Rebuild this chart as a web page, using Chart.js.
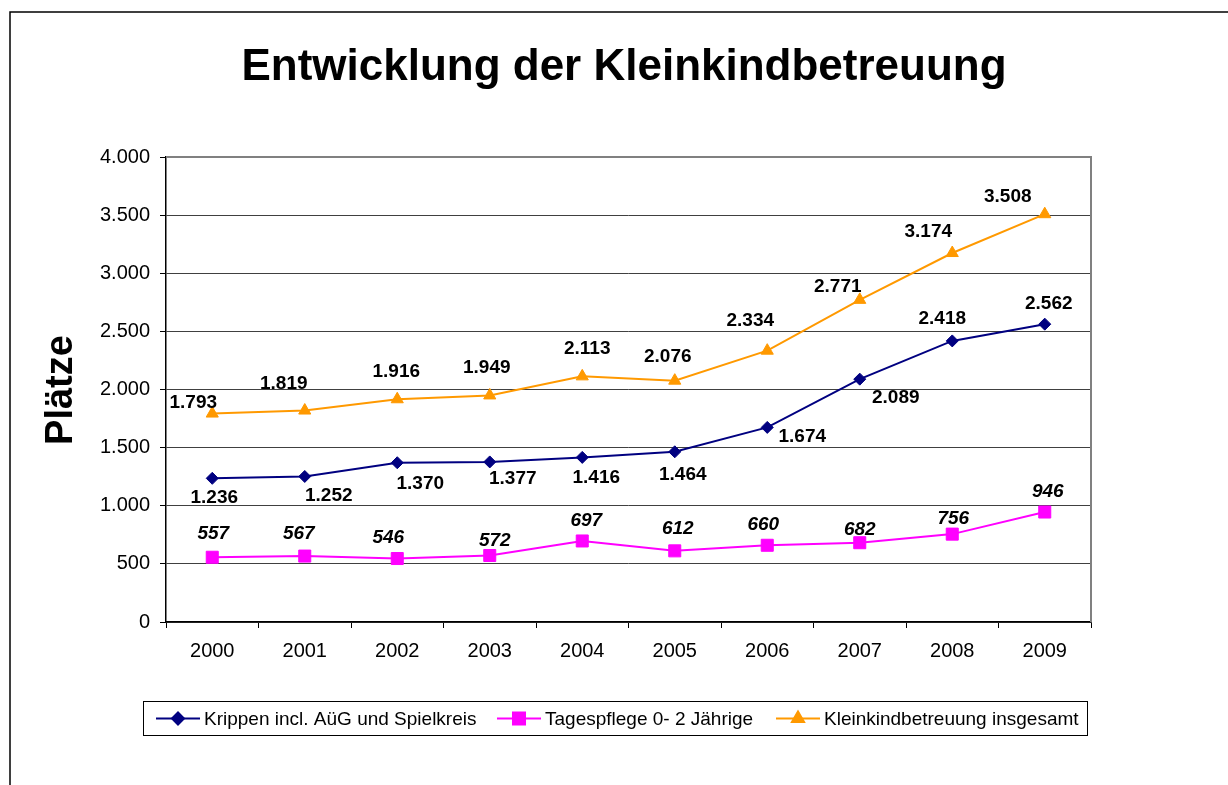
<!DOCTYPE html>
<html>
<head>
<meta charset="utf-8">
<script src="https://cdn.jsdelivr.net/npm/chart.js@4.4.0/dist/chart.umd.min.js"></script>
<style>
    html, body { margin: 0; padding: 0; background: #fff; }
    #wrap { position: relative; width: 1228px; height: 785px; }
</style>
</head>
<body>
<div id="wrap"><canvas id="chart" width="1228" height="785"></canvas></div>
<script>
// chart data
const years = ['2000', '2001', '2002', '2003', '2004', '2005', '2006', '2007', '2008', '2009'];
const krippen = [1236, 1252, 1370, 1377, 1416, 1464, 1674, 2089, 2418, 2562];
const tagespflege = [557, 567, 546, 572, 697, 612, 660, 682, 756, 946];
const gesamt = [1793, 1819, 1916, 1949, 2113, 2076, 2334, 2771, 3174, 3508];
const yTickValues = [0, 500, 1000, 1500, 2000, 2500, 3000, 3500, 4000];

const seriesNames = ['Krippen incl. AüG und Spielkreis', 'Tagespflege 0- 2 Jährige', 'Kleinkindbetreuung insgesamt'];
const chartTitle = 'Entwicklung der Kleinkindbetreuung';
const yTitle = 'Plätze';

// where each value label sits relative to its point (like Excel placed them)
const labelOffsets = [
    [[2, 19], [24, 19], [23, 21], [23, 17], [14, 20], [8, 23], [35, 9], [36, 19], [-10, -22], [4, -20]],
    [[1, -23], [-6, -22], [-9, -21], [5, -15], [4, -20], [3, -22], [-4, -21], [0, -13], [1, -15], [3, -20]],
    [[-19, -11], [-21, -27], [-1, -27], [-3, -28], [5, -28], [-7, -24], [-17, -30], [-22, -13], [-24, -21], [-37, -17]]
];

const FONT = '"Liberation Sans", Arial, sans-serif';

function fmt(v) {
    return String(v).replace(/\B(?=(\d{3})+(?!\d))/g, '.');
}

// title, axis title, frame, plot border, value labels and legend
const decorations = {
    id: 'decorations',
    beforeDraw(chart) {
        const ctx = chart.ctx;
        ctx.save();
        ctx.fillStyle = '#fff';
        ctx.fillRect(0, 0, chart.width, chart.height);
        ctx.strokeStyle = '#000';
        ctx.lineWidth = 1.5;
        ctx.beginPath();
        ctx.moveTo(10, chart.height);
        ctx.lineTo(10, 12);
        ctx.lineTo(chart.width, 12);
        ctx.stroke();
        ctx.restore();
    },
    afterDatasetsDraw(chart) {
        const ctx = chart.ctx;
        const area = chart.chartArea;
        ctx.save();

        // gray plot border top and right
        ctx.strokeStyle = '#808080';
        ctx.lineWidth = 2;
        ctx.beginPath();
        ctx.moveTo(area.left, area.top);
        ctx.lineTo(area.right, area.top);
        ctx.lineTo(area.right, area.bottom);
        ctx.stroke();

        // value labels
        ctx.fillStyle = '#000';
        ctx.textAlign = 'center';
        ctx.textBaseline = 'middle';
        chart.data.datasets.forEach((ds, di) => {
            const meta = chart.getDatasetMeta(di);
            ctx.font = (di === 1 ? 'italic ' : '') + 'bold 19px ' + FONT;
            meta.data.forEach((pt, i) => {
                const off = labelOffsets[di][i];
                ctx.fillText(fmt(ds.data[i]), pt.x + off[0], pt.y + off[1]);
            });
        });
        ctx.restore();
    },
    afterDraw(chart) {
        const ctx = chart.ctx;
        ctx.save();

        // title
        ctx.fillStyle = '#000';
        ctx.textAlign = 'center';
        ctx.textBaseline = 'middle';
        ctx.font = 'bold 44px ' + FONT;
        ctx.fillText(chartTitle, 624, 68);

        // y axis title
        ctx.save();
        ctx.translate(62, 390);
        ctx.rotate(-Math.PI / 2);
        ctx.font = 'bold 38px ' + FONT;
        ctx.fillText(yTitle, 0, 0);
        ctx.restore();

        // legend
        const box = { x: 143.5, y: 701.5, w: 944, h: 34 };
        ctx.strokeStyle = '#000';
        ctx.lineWidth = 1;
        ctx.strokeRect(box.x, box.y, box.w, box.h);
        const itemX = [156, 497, 776];
        const cy = box.y + box.h / 2;
        ctx.font = '19px ' + FONT;
        ctx.textAlign = 'left';
        chart.data.datasets.forEach((ds, di) => {
            const x0 = itemX[di];
            ctx.strokeStyle = ds.borderColor;
            ctx.lineWidth = 2;
            ctx.beginPath();
            ctx.moveTo(x0, cy);
            ctx.lineTo(x0 + 44, cy);
            ctx.stroke();
            ctx.fillStyle = ds.backgroundColor;
            ctx.strokeStyle = ds.borderColor;
            Chart.helpers.drawPoint(ctx, {
                pointStyle: ds.pointStyle,
                radius: ds.pointRadius,
                rotation: 0,
                borderWidth: 1
            }, x0 + 22, cy);
            ctx.fillStyle = '#000';
            ctx.fillText(ds.label, x0 + 48, cy + 1);
        });
        ctx.restore();
    }
};

const ctx = document.getElementById('chart').getContext('2d');

new Chart(ctx, {
    type: 'line',
    data: {
        labels: years,
        datasets: [{
            label: seriesNames[0],
            data: krippen,
            borderColor: '#000080',
            backgroundColor: '#000080',
            borderWidth: 2,
            pointStyle: 'rectRot',
            pointRadius: 6,
            pointBorderWidth: 1,
            tension: 0
        }, {
            label: seriesNames[1],
            data: tagespflege,
            borderColor: '#FF00FF',
            backgroundColor: '#FF00FF',
            borderWidth: 2,
            pointStyle: 'rect',
            pointRadius: 8.5,
            pointBorderWidth: 1,
            tension: 0
        }, {
            label: seriesNames[2],
            data: gesamt,
            borderColor: '#FF9900',
            backgroundColor: '#FF9900',
            borderWidth: 2,
            pointStyle: 'triangle',
            pointRadius: 7,
            pointBorderWidth: 1,
            tension: 0
        }]
    },
    options: {
        responsive: false,
        animation: false,
        layout: {
            padding: { left: 0, top: 157, right: 137, bottom: 0 }
        },
        plugins: {
            legend: { display: false },
            title: { display: false },
            tooltip: { enabled: false }
        },
        scales: {
            x: {
                offset: true,
                grid: {
                    display: true,
                    drawOnChartArea: false,
                    offset: true,
                    tickLength: 6,
                    tickColor: '#000',
                    tickWidth: 1
                },
                border: { color: '#000', width: 1.5 },
                ticks: {
                    color: '#000',
                    font: { family: FONT, size: 20 },
                    padding: 11,
                    maxRotation: 0
                },
                afterFit(scale) { scale.height = 163; }
            },
            y: {
                min: 0,
                max: 4000,
                afterBuildTicks(scale) {
                    scale.ticks = yTickValues.map(v => ({ value: v }));
                },
                grid: {
                    color: '#404040',
                    lineWidth: 1,
                    tickLength: 6,
                    tickColor: '#000'
                },
                border: { color: '#000', width: 1.5 },
                ticks: {
                    color: '#000',
                    font: { family: FONT, size: 20 },
                    padding: 10,
                    callback: v => fmt(v)
                },
                afterFit(scale) { scale.width = 166; }
            }
        }
    },
    plugins: [decorations]
});
</script>
</body>
</html>
